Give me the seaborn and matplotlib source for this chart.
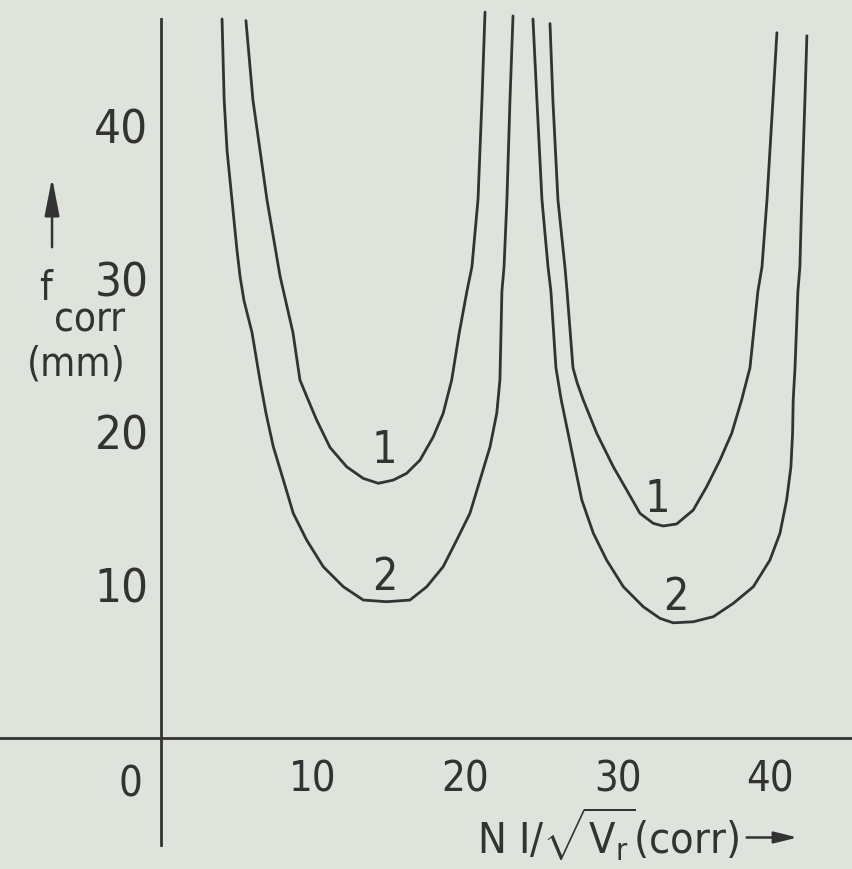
import matplotlib
matplotlib.use("Agg")
import matplotlib.pyplot as plt
import pandas as pd
import seaborn as sns

# Curve 1 (upper) and curve 2 (lower) around the first minimum
c1a_x = [5.58, 6.04, 6.96, 7.82, 8.67, 9.13, 9.67, 10.22, 11.10, 12.20, 13.29, 14.28,
         15.26, 16.14, 17.02, 17.89, 18.54, 19.10, 19.6, 20.1, 20.43, 20.83, 21.09, 21.29]
c1a_y = [46.9, 41.7, 35.2, 30.2, 26.5, 23.4, 22.1, 20.8, 19.0, 17.73, 16.97, 16.65,
         16.86, 17.3, 18.17, 19.69, 21.22, 23.4, 26.5, 29.2, 30.8, 35.2, 41.7, 47.45]

c2a_x = [4.01, 4.15, 4.34, 4.66, 4.99, 5.19, 5.45, 5.98, 6.50, 6.90, 7.38, 8.04, 8.69,
         9.57, 10.66, 11.98, 13.29, 14.83, 16.36, 17.46, 18.54, 19.43, 20.30, 20.96,
         21.62, 22.06, 22.27, 22.4, 22.54, 22.73, 22.93, 23.13]
c2a_y = [47.0, 41.7, 38.4, 35.2, 31.9, 30.2, 28.6, 26.5, 23.4, 21.22, 19.04, 16.86, 14.69,
         12.94, 11.2, 9.89, 9.02, 8.91, 9.02, 9.89, 11.2, 12.94, 14.69, 16.86,
         19.04, 21.22, 23.4, 29.2, 30.8, 35.2, 41.7, 47.2]

# Curve 1 and curve 2 around the second minimum
c1b_x = [25.56, 25.75, 26.08, 26.54, 26.68, 27.07, 27.35, 27.75, 28.63, 29.72, 30.60,
         31.47, 32.35, 33.00, 33.88, 34.97, 35.85, 36.73, 37.50, 38.15, 38.7, 39.22,
         39.49, 39.82, 40.21, 40.47]
c1b_y = [46.7, 41.7, 35.2, 30.8, 29.2, 24.2, 23.2, 22.09, 19.92, 17.73, 16.21,
         14.69, 14.03, 13.86, 13.99, 14.9, 16.42, 18.17, 19.92, 22.09, 24.2, 29.2,
         30.8, 35.2, 41.7, 46.1]

c2b_x = [24.44, 24.7, 25.03, 25.43, 25.62, 25.95, 26.30, 26.75, 27.20, 27.65, 28.41,
         29.28, 30.38, 31.69, 32.79, 33.66, 34.98, 36.29, 37.60, 38.92, 40.01, 40.67,
         41.11, 41.39, 41.50, 41.54, 41.66, 41.85, 41.98, 42.1, 42.31, 42.44]
c2b_y = [47.0, 41.7, 35.2, 30.8, 29.2, 24.2, 22.09, 19.92, 17.73, 15.56, 13.38,
         11.63, 9.89, 8.58, 7.82, 7.53, 7.6, 7.93, 8.8, 9.89, 11.63, 13.38,
         15.56, 17.73, 19.92, 22.09, 24.2, 29.2, 30.8, 35.2, 41.7, 45.9]

x_ticks = [10, 20, 30, 40]
y_ticks = [10, 20, 30, 40]

# curve numbers written next to each minimum
curve_labels = ["1", "2", "1", "2"]
label_x = [14.7, 14.7, 32.6, 33.8]
label_y = [18.8, 10.5, 15.6, 9.2]

BG = "#dee4dc"
INK = "#333333"

sns.set_theme(style="white")
plt.rcParams["font.family"] = ["DejaVu Sans"]
plt.rcParams["font.stretch"] = "condensed"
plt.rcParams["mathtext.fontset"] = "custom"
plt.rcParams["mathtext.rm"] = "DejaVu Sans:stretch=condensed"
plt.rcParams["mathtext.it"] = "DejaVu Sans:stretch=condensed"

branches = {"1a": (c1a_x, c1a_y), "2a": (c2a_x, c2a_y),
            "1b": (c1b_x, c1b_y), "2b": (c2b_x, c2b_y)}
df = pd.concat(
    [pd.DataFrame({"ni": xs, "f": ys, "branch": k}) for k, (xs, ys) in branches.items()],
    ignore_index=True,
)

fig = plt.figure(figsize=(8.53, 8.69), dpi=100, facecolor=BG)
ax = fig.add_axes([0, 0, 1, 1])
ax.set_facecolor(BG)

sns.lineplot(data=df, x="ni", y="f", units="branch", estimator=None, sort=False,
             color=INK, lw=2.0, ax=ax)

ax.set_xlim(-10.58, 45.47)
ax.set_ylim(-8.56, 48.24)
ax.set_xlabel("")
ax.set_ylabel("")

for s in ("top", "right"):
    ax.spines[s].set_visible(False)
ax.spines["left"].set_position(("data", 0))
ax.spines["left"].set_bounds(-7.0, 47.0)
ax.spines["bottom"].set_position(("data", 0))
ax.spines["bottom"].set_bounds(-10.58, 45.47)
for s in ("left", "bottom"):
    ax.spines[s].set_color(INK)
    ax.spines[s].set_linewidth(2.0)

ax.set_xticks(x_ticks)
ax.set_yticks(y_ticks)
ax.set_xticklabels([str(v) for v in x_ticks])
ax.set_yticklabels([str(v) for v in y_ticks])
ax.tick_params(axis="y", direction="in", length=11, width=1.6, color=INK,
               labelsize=34, pad=9, labelcolor=INK)
ax.tick_params(axis="x", direction="in", length=13, width=1.6, color=INK,
               labelsize=30, pad=15, labelcolor=INK)

# origin label sits left of the vertical axis
ax.text(-2.04, -3.05, "0", fontsize=30, color=INK, ha="center", va="center")

for t, lx, ly in zip(curve_labels, label_x, label_y):
    ax.text(lx, ly, t, fontsize=32, color=INK, ha="center", va="center")

# y-axis caption: arrow, f_corr, unit
ax.annotate("", xy=(-7.16, 36.8), xytext=(-7.16, 31.9),
            arrowprops=dict(arrowstyle="-|>,head_length=2.3,head_width=0.45",
                            mutation_scale=10, color=INK, lw=1.8))
ax.text(-7.62, 29.35, "f", fontsize=29, color=INK, ha="center", va="center")
ax.text(-4.73, 27.3, "corr", fontsize=29, color=INK, ha="center", va="center")
ax.text(-5.58, 24.4, "(mm)", fontsize=29, color=INK, ha="center", va="center")

# x-axis caption with trailing arrow
ax.text(20.76, -7.6, r"N I/$\sqrt{\mathrm{V}_{\mathrm{r}}}$(corr)", fontsize=31,
        color=INK, ha="left", va="baseline")
ax.annotate("", xy=(42.0, -6.5), xytext=(38.3, -6.5),
            arrowprops=dict(arrowstyle="-|>,head_length=1.4,head_width=0.35",
                            mutation_scale=10, color=INK, lw=1.8))

fig.savefig("out.png", dpi=100, facecolor=BG)
